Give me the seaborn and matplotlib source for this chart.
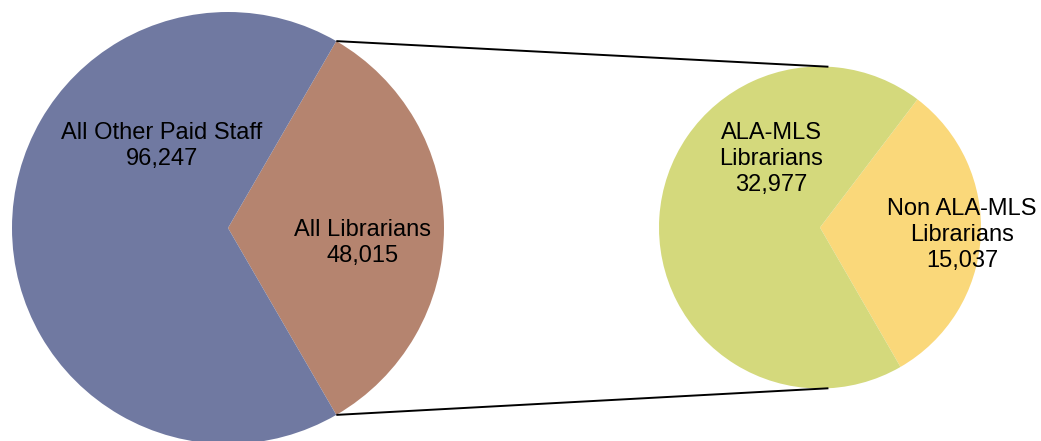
import matplotlib
matplotlib.use("Agg")
import matplotlib.pyplot as plt
import seaborn as sns
import numpy as np

# data
main_labels = ["All Librarians", "All Other Paid Staff"]
main_values = [48015, 96247]
sub_labels = ["Non ALA-MLS\nLibrarians", "ALA-MLS\nLibrarians"]
sub_values = [15037, 32977]

main_colors = ["#B5846F", "#7079A1"]
sub_colors = ["#FAD87A", "#D4D97C"]

sns.set_theme(style="white")
plt.rcParams["font.family"] = ["Liberation Sans", "DejaVu Sans"]

W, H = 1041, 441
fig = plt.figure(figsize=(W / 100, H / 100), dpi=100, facecolor="white")
ax = fig.add_axes([0, 0, 1, 1])

# pie geometry (pixel coords, y measured from bottom)
c1, r1 = (228, H - 228), 216
c2, r2 = (820, H - 227.5), 161

share = main_values[0] / sum(main_values)
w1, _ = ax.pie(main_values, colors=main_colors, center=c1, radius=r1,
               startangle=-180 * share, counterclock=True,
               wedgeprops=dict(linewidth=0), frame=True)
w2, _ = ax.pie(sub_values, colors=sub_colors, center=c2, radius=r2,
               startangle=-60, counterclock=True,
               wedgeprops=dict(linewidth=0), frame=True)
ax.set_xlim(0, W)
ax.set_ylim(0, H)
ax.set_aspect("equal")
ax.axis("off")

# connector lines
t1, t2 = np.radians(w1[0].theta1), np.radians(w1[0].theta2)
for t_big, t_small in [(t2, np.radians(87)), (t1, np.radians(-87))]:
    x0 = c1[0] + r1 * np.cos(t_big)
    y0 = c1[1] + r1 * np.sin(t_big)
    x1 = c2[0] + r2 * np.cos(t_small)
    y1 = c2[1] + r2 * np.sin(t_small)
    ax.plot([x0, x1], [y0, y1], color="black", lw=1.4, solid_capstyle="butt")

# labels
fs = 17
kw = dict(ha="center", va="center", fontsize=fs, linespacing=1.22, color="black")
ax.text(162, H - 146, f"{main_labels[1]}\n{main_values[1]:,}", **kw)
ax.text(363, H - 243, f"{main_labels[0]}\n{main_values[0]:,}", **kw)
ax.text(771, H - 159, f"{sub_labels[1]}\n{sub_values[1]:,}", **kw)
ax.text(962, H - 235, f"{sub_labels[0]}\n{sub_values[0]:,}", **kw)

fig.savefig("out.png", dpi=100, facecolor="white")
